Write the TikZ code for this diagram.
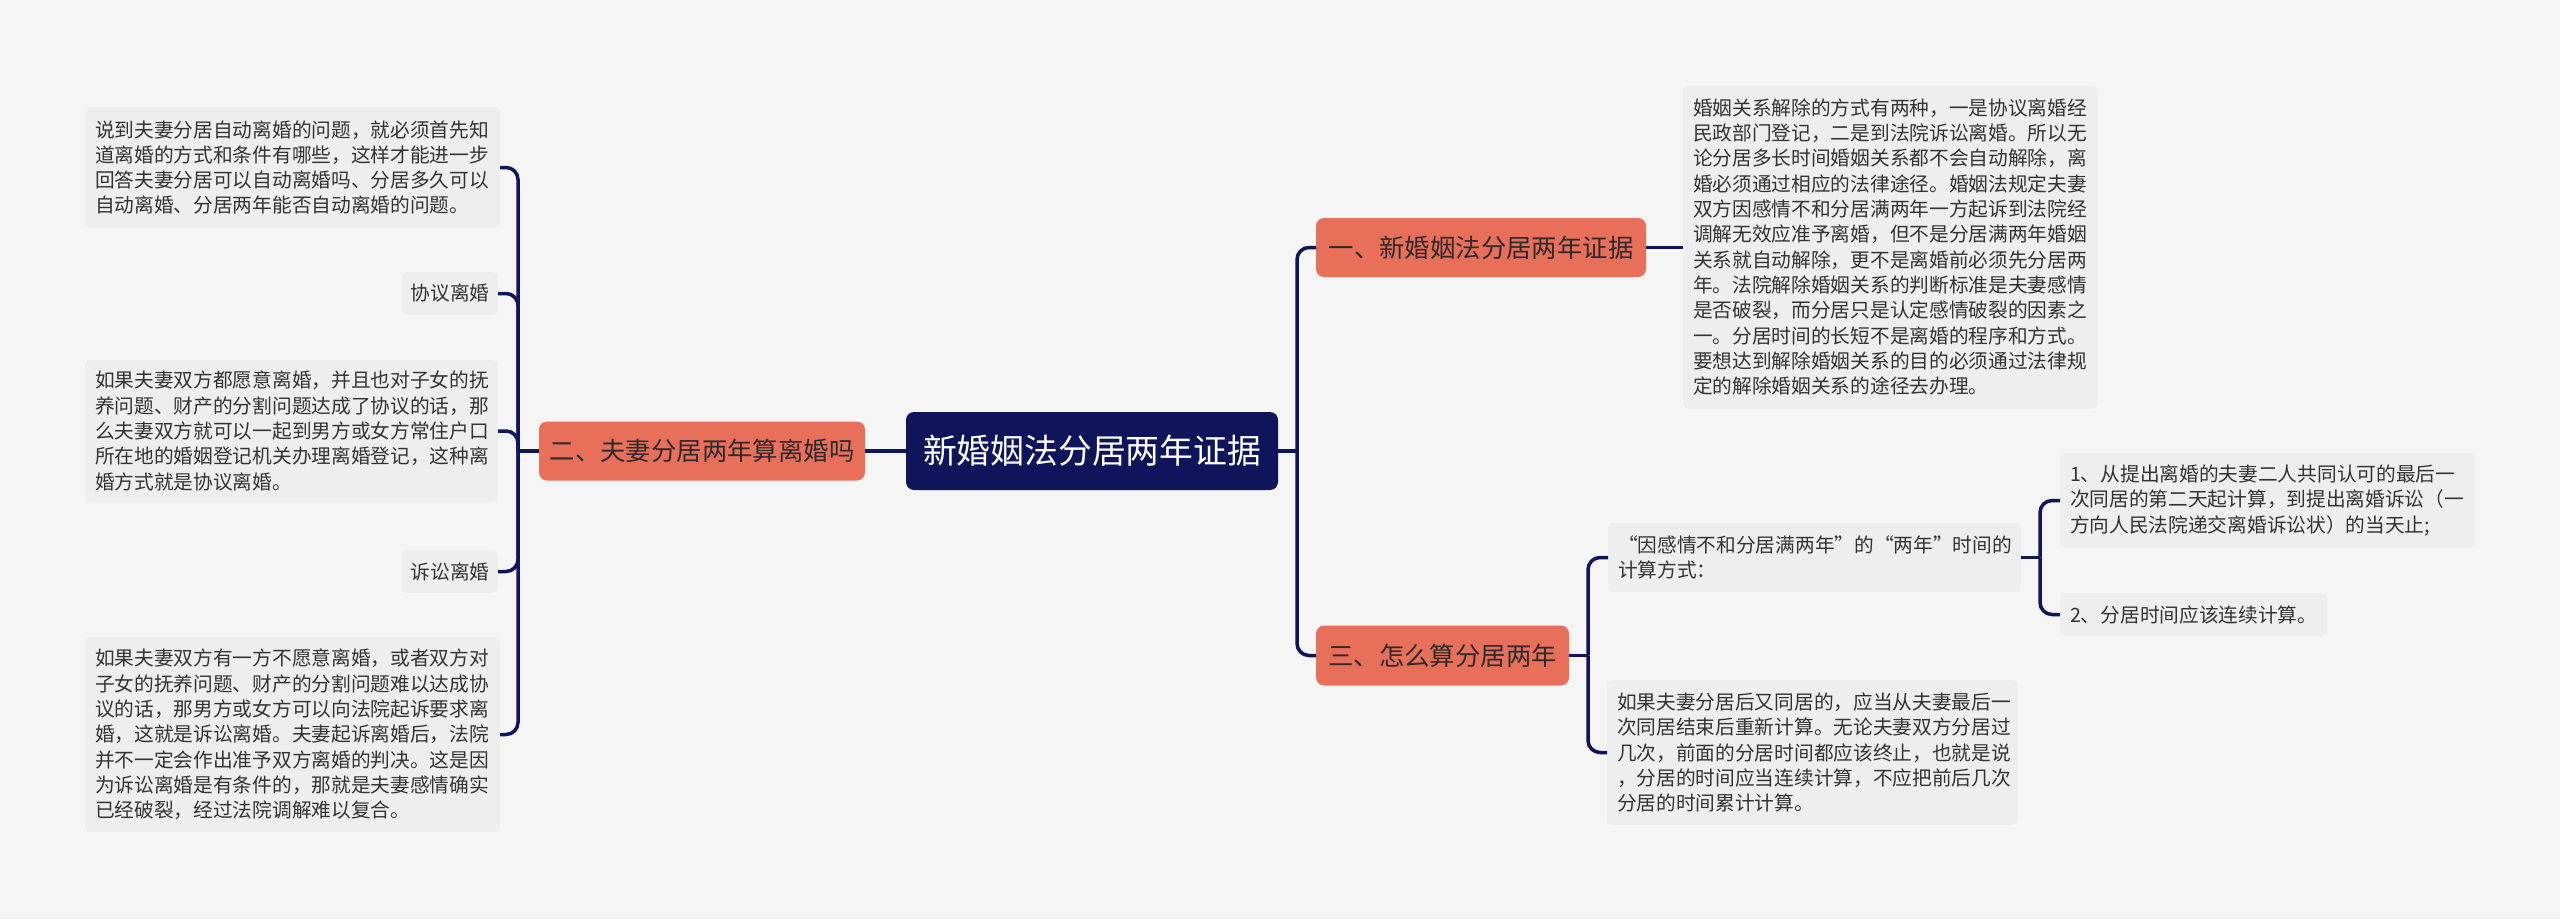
\documentclass[tikz,border=0pt]{standalone}
\usepackage{fontspec}
\newfontfamily\cjk{Noto Sans CJK SC}
\definecolor{bgc}{HTML}{F5F5F5}
\definecolor{leafc}{HTML}{EEEEEE}
\definecolor{navy}{HTML}{10145A}
\definecolor{orangec}{HTML}{E8705A}
\definecolor{txtc}{HTML}{333333}
\definecolor{btxt}{HTML}{2E2A2A}
\tikzset{
  leaf/.style={fill=leafc, rounded corners=6pt, inner xsep=10pt, inner ysep=0pt, outer sep=0pt,
    align=left, text=txtc, font=\cjk\fontsize{19.7}{25.3}\selectfont},
  smallleaf/.style={fill=leafc, rounded corners=6pt, inner sep=0pt, outer sep=0pt,
    align=center, text=txtc, font=\cjk\fontsize{19.7}{25.3}\selectfont},
  branch/.style={fill=orangec, rounded corners=8pt, inner sep=0pt, outer sep=0pt,
    text=btxt, font=\cjk\fontsize{25.4}{30}\selectfont},
  rootbox/.style={fill=navy, rounded corners=8pt, inner sep=0pt, outer sep=0pt,
    text=white, font=\cjk\fontsize{33.8}{40}\selectfont},
  conn/.style={draw=navy, line width=3.5pt, rounded corners=12pt}
}
\begin{document}
\begin{tikzpicture}[x=1pt,y=-1pt]
\useasboundingbox (0,0) rectangle (2560,919);
\fill[bgc] (0,0) rectangle (2560,919);

% root and branches
\node[rootbox, minimum width=372pt, minimum height=78pt] (c) at (1092,451) {新婚姻法分居两年证据};
\node[branch, minimum width=330pt, minimum height=59pt] (b1) at (1481,247.5) {一、新婚姻法分居两年证据};
\node[branch, minimum width=326pt, minimum height=59pt] (b2) at (702,451) {二、夫妻分居两年算离婚吗};
\node[branch, minimum width=253pt, minimum height=60pt] (b3) at (1442.5,655.5) {三、怎么算分居两年};

% left leaves
\node[leaf, minimum width=415pt, minimum height=121pt, text width=395pt] (l1) at (292.5,167.5) {说到夫妻分居自动离婚的问题，就必须首先知\\道离婚的方式和条件有哪些，这样才能进一步\\回答夫妻分居可以自动离婚吗、分居多久可以\\自动离婚、分居两年能否自动离婚的问题。};
\node[smallleaf, minimum width=96pt, minimum height=43pt] (l2) at (450,293.5) {协议离婚};
\node[leaf, minimum width=413pt, minimum height=142pt, text width=393pt] (l3) at (291.5,431) {如果夫妻双方都愿意离婚，并且也对子女的抚\\养问题、财产的分割问题达成了协议的话，那\\么夫妻双方就可以一起到男方或女方常住户口\\所在地的婚姻登记机关办理离婚登记，这种离\\婚方式就是协议离婚。};
\node[smallleaf, minimum width=96pt, minimum height=43pt] (l4) at (450,571.5) {诉讼离婚};
\node[leaf, minimum width=415pt, minimum height=195pt, text width=395pt] (l5) at (292.5,734.5) {如果夫妻双方有一方不愿意离婚，或者双方对\\子女的抚养问题、财产的分割问题难以达成协\\议的话，那男方或女方可以向法院起诉要求离\\婚，这就是诉讼离婚。夫妻起诉离婚后，法院\\并不一定会作出准予双方离婚的判决。这是因\\为诉讼离婚是有条件的，那就是夫妻感情确实\\已经破裂，经过法院调解难以复合。};

% right leaves
\node[leaf, minimum width=415pt, minimum height=323pt, text width=395pt] (r1) at (1890.5,247) {婚姻关系解除的方式有两种，一是协议离婚经\\民政部门登记，二是到法院诉讼离婚。所以无\\论分居多长时间婚姻关系都不会自动解除，离\\婚必须通过相应的法律途径。婚姻法规定夫妻\\双方因感情不和分居满两年一方起诉到法院经\\调解无效应准予离婚，但不是分居满两年婚姻\\关系就自动解除，更不是离婚前必须先分居两\\年。法院解除婚姻关系的判断标准是夫妻感情\\是否破裂，而分居只是认定感情破裂的因素之\\一。分居时间的长短不是离婚的程序和方式。\\要想达到解除婚姻关系的目的必须通过法律规\\定的解除婚姻关系的途径去办理。};
\node[leaf, minimum width=413pt, minimum height=69pt, text width=393pt] (r2) at (1814.5,557.5) {“因感情不和分居满两年”的“两年”时间的\\计算方式：};
\node[leaf, minimum width=411pt, minimum height=145pt, text width=391pt] (r3) at (1812.5,752.5) {如果夫妻分居后又同居的，应当从夫妻最后一\\次同居结束后重新计算。无论夫妻双方分居过\\几次，前面的分居时间都应该终止，也就是说\\，分居的时间应当连续计算，不应把前后几次\\分居的时间累计计算。};
\node[leaf, minimum width=415pt, minimum height=95pt, text width=395pt] (r4) at (2267.5,500.5) {1、从提出离婚的夫妻二人共同认可的最后一\\次同居的第二天起计算，到提出离婚诉讼（一\\方向人民法院递交离婚诉讼状）的当天止;};
\node[leaf, minimum width=267pt, minimum height=43pt, text width=247pt] (r5) at (2193.5,614.5) {2、分居时间应该连续计算。};

% connectors: root
\coordinate (jr) at (1297,451);
\draw[conn] (c.east) -- (jr);
\draw[conn] (jr) -- (jr |- b1.west) -- (b1.west);
\draw[conn] (jr) -- (jr |- b3.west) -- (b3.west);
\draw[conn] (c.west) -- (b2.east);

% branch 2
\coordinate (jl) at (518,451);
\draw[conn] (b2.west) -- (jl);
\draw[conn] (jl) -- (jl |- l1.east) -- (l1.east);
\draw[conn] (jl) -- (jl |- l2.east) -- (l2.east);
\draw[conn] (jl) -- (jl |- l3.east) -- (l3.east);
\draw[conn] (jl) -- (jl |- l4.east) -- (l4.east);
\draw[conn] (jl) -- (jl |- l5.east) -- (l5.east);

% branch 1
\draw[conn] (b1.east) -- (b1.east -| r1.west);

% branch 3
\coordinate (j3) at (1588,655.5);
\draw[conn] (b3.east) -- (j3);
\draw[conn] (j3) -- (j3 |- r2.west) -- (r2.west);
\draw[conn] (j3) -- (j3 |- r3.west) -- (r3.west);

% r2 children
\coordinate (j4) at (2040,557.5);
\draw[conn] (r2.east) -- (j4);
\draw[conn] (j4) -- (j4 |- r4.west) -- (r4.west);
\draw[conn] (j4) -- (j4 |- r5.west) -- (r5.west);
\end{tikzpicture}
\end{document}
